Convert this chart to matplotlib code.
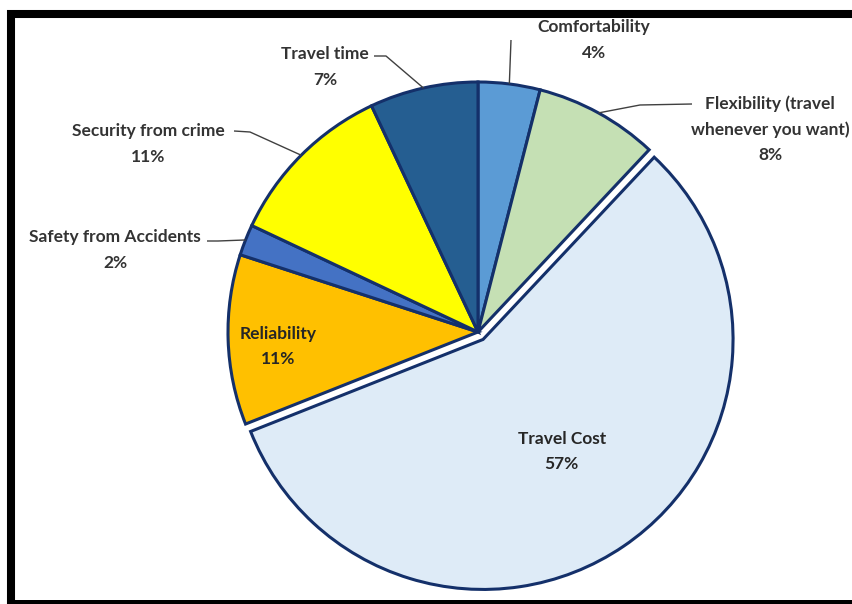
import numpy as np
import matplotlib.pyplot as plt

plt.rcParams['font.family'] = ['Lato', 'DejaVu Sans']

labels = ['Comfortability', 'Flexibility (travel\nwhenever you want)', 'Travel Cost',
          'Reliability', 'Safety from Accidents', 'Security from crime', 'Travel time']
shares = [4, 8, 57, 11, 2, 11, 7]
colors = ['#5B9BD5', '#C5E0B4', '#DEEBF7', '#FFC000', '#4472C4', '#FFFF00', '#255E91']

W, H = 853, 604
fig = plt.figure(figsize=(W / 100, H / 100), dpi=100)
ax = fig.add_axes([0, 0, 1, 1])

cx, cy, R = 478, H - 332, 250
explode = [0, 0, 9, 0, 0, 0, 0]

wedges, _ = ax.pie(shares, colors=colors, startangle=90, counterclock=False,
                   center=(cx, cy), radius=R, explode=explode, frame=True,
                   wedgeprops=dict(edgecolor='#14306A', linewidth=2.2))
ax.set_xlim(0, W)
ax.set_ylim(0, H)
ax.set_aspect('equal')
ax.axis('off')

txt = dict(fontsize=12.5, fontweight='bold', color='#333333', ha='center', va='center',
           linespacing=1.7)


def edge_point(w):
    a = np.deg2rad((w.theta1 + w.theta2) / 2)
    return w.center[0] + w.r * np.cos(a), w.center[1] + w.r * np.sin(a)


def inner_point(w, f):
    a = np.deg2rad((w.theta1 + w.theta2) / 2)
    return w.center[0] + w.r * f * np.cos(a), w.center[1] + w.r * f * np.sin(a)


# labels inside the big slices
for i, f, dy in [(2, 0.56, 4), (3, 0.8, -8)]:
    x, y = inner_point(wedges[i], f)
    ax.text(x, y + dy, f'{labels[i]}\n{shares[i]}%',
            **{**txt, 'color': '#262626'})

# outside labels: text position, leader elbow
outside = {
    0: ((594, H - 40), [(511, H - 40)]),
    1: ((770, H - 129), [(692, H - 104), (640, H - 105)]),
    6: ((325, H - 67), [(374, H - 56), (386, H - 56)]),
    5: ((148, H - 144), [(234, H - 131), (250, H - 132)]),
    4: ((115, H - 250), [(207, H - 241), (218, H - 241)]),
}
for i, (pos, elbow) in outside.items():
    ex, ey = edge_point(wedges[i])
    pts = elbow + [(ex, ey)]
    ax.plot([p[0] for p in pts], [p[1] for p in pts], color='#404040', lw=1.0,
            solid_capstyle='butt')
    ax.text(pos[0], pos[1], f'{labels[i]}\n{shares[i]}%', **txt)

# black frame
ax.plot([11, 11, W + 5], [-5, H - 14, H - 14], color='black', lw=5.8,
        solid_joinstyle='miter', clip_on=False)
ax.plot([11, W + 5], [2.5, 2.5], color='black', lw=3.6, clip_on=False)

fig.savefig('out.png', dpi=100, facecolor='white')
